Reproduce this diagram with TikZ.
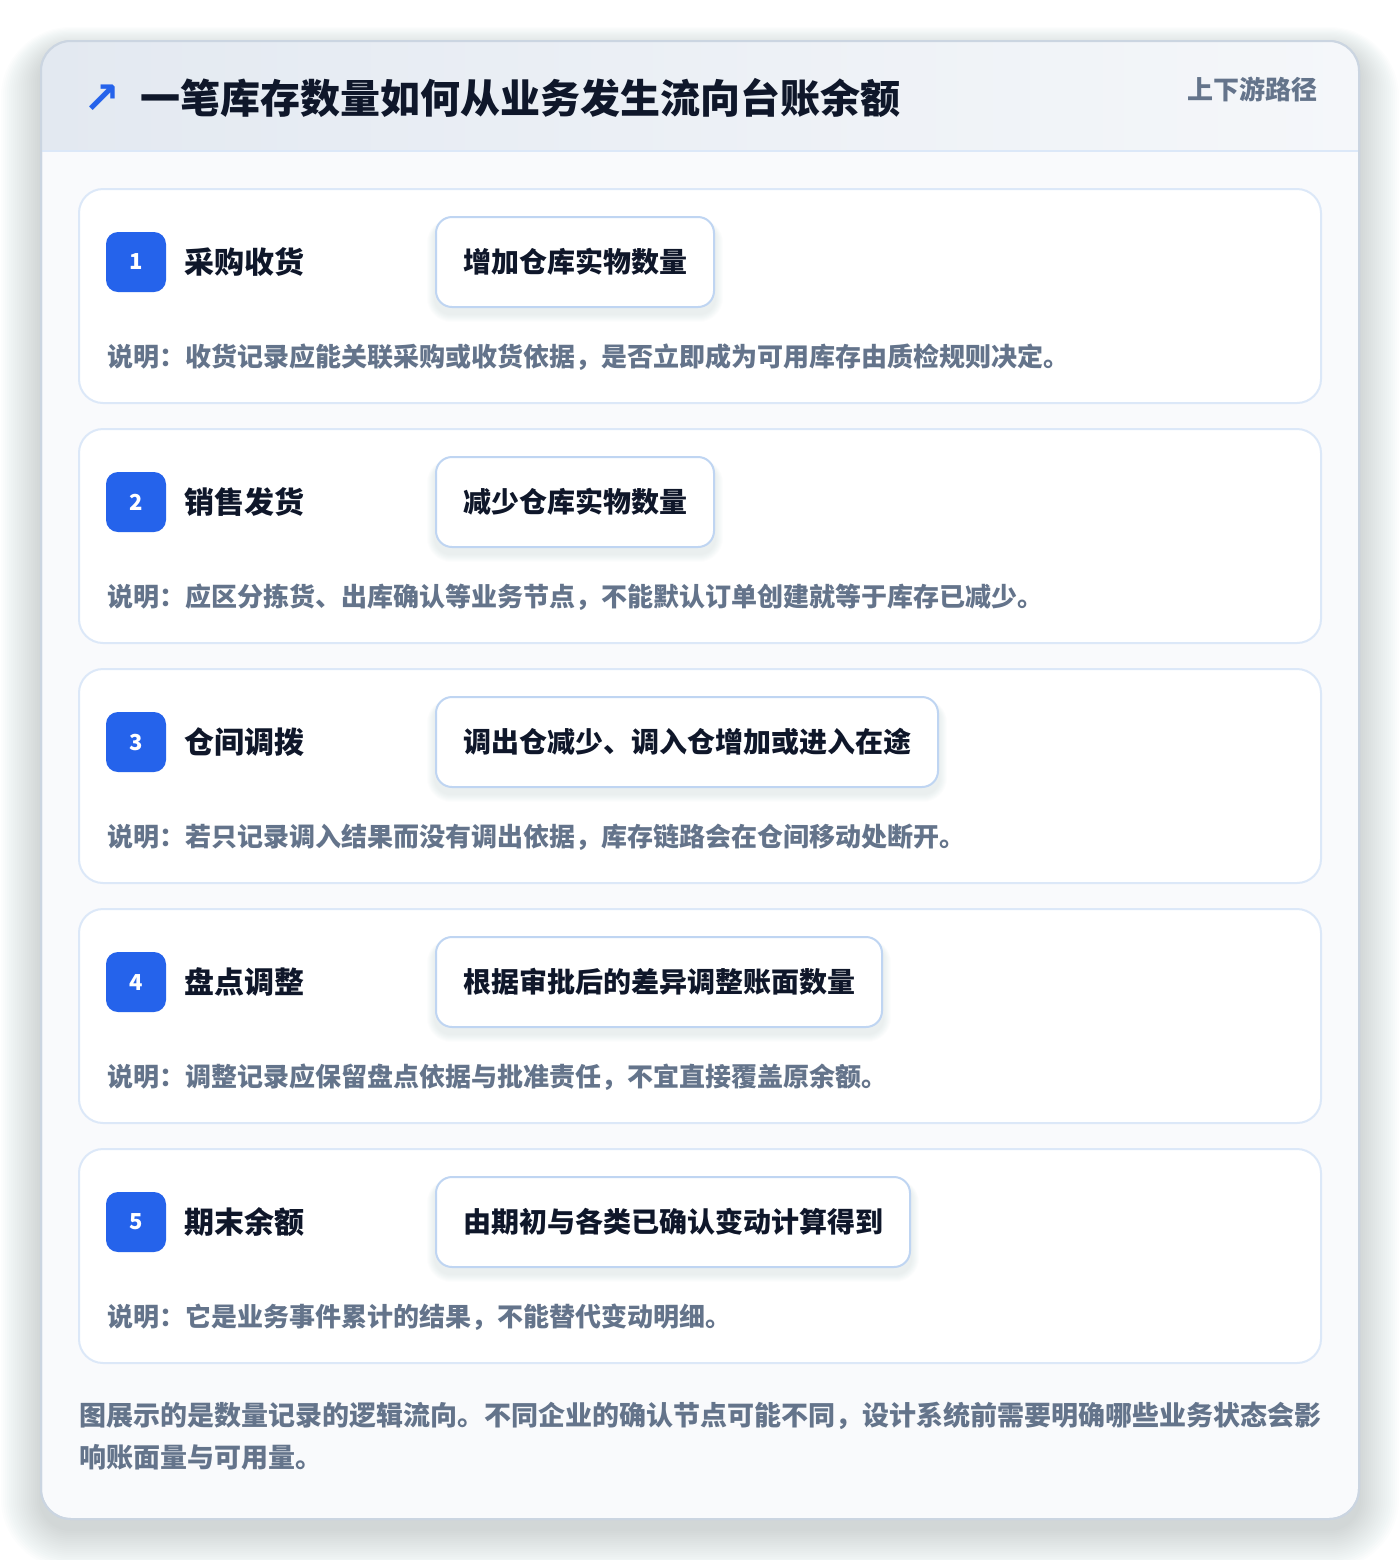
\documentclass[tikz,border=0pt]{standalone}
\usepackage{fontspec}
\setmainfont{Noto Sans CJK SC}
\newfontfamily\arrowfont{DejaVu Sans}

\definecolor{ink}{HTML}{0F172A}
\definecolor{slate}{HTML}{64748B}
\definecolor{accent}{HTML}{2563EB}
\definecolor{cardline}{HTML}{DCE8F8}
\definecolor{boxline}{HTML}{BFD5F2}
\definecolor{panelline}{HTML}{CBD5E1}
\definecolor{panelfill}{HTML}{F9FAFC}
\definecolor{headleft}{HTML}{E3E9F1}
\definecolor{headright}{HTML}{F5F7FA}
\definecolor{shadowgrey}{HTML}{475569}

\pgfdeclarelayer{glow}
\pgfdeclarelayer{front}
\pgfsetlayers{main,glow,front}

\begin{document}
\begin{tikzpicture}[x=0.5pt, y=-0.5pt,
  panel/.style={draw=panelline, line width=1pt, fill=panelfill, rounded corners=15pt},
  card/.style={draw=cardline, line width=1pt, fill=white, rounded corners=12pt},
  badge/.style={fill=accent, text=white, rounded corners=6pt, minimum size=30pt, inner sep=0pt,
    font=\fontsize{11pt}{13pt}\selectfont\bfseries},
  steplabel/.style={anchor=west, inner sep=0pt, text=ink, font=\fontsize{15pt}{18pt}\selectfont\bfseries},
  effect/.style={anchor=west, draw=boxline, line width=1pt, fill=white, rounded corners=8pt,
    inner xsep=13.5pt, inner ysep=0pt, minimum height=45pt, text=ink,
    font=\fontsize{14pt}{17pt}\selectfont\bfseries},
  note/.style={anchor=west, inner sep=0pt, text=slate, font=\fontsize{13pt}{16pt}\selectfont\bfseries}]

  % The page
  \fill [white] (0,0) rectangle (1400,1560);
  \useasboundingbox (0,0) rectangle (1400,1560);

  % The soft shadow under the panel
  \foreach \s in {2,4,...,40} {
    \fill [shadowgrey, fill opacity=0.012, rounded corners=15pt+\s*0.5pt]
      (41-\s,41-\s*0.6+10) rectangle (1359+\s,1519+\s+10);
  }

  % The panel
  \path [panel] (41,41) rectangle (1359,1519);

  % The header band
  \begin{scope}
    \clip [rounded corners=15pt] (41,41) rectangle (1359,1519);
    \shade [left color=headleft, right color=headright] (41,41) rectangle (1359,151);
  \end{scope}
  \draw [cardline, line width=1pt] (41,151) -- (1359,151);
  \draw [panelline, line width=1pt, rounded corners=15pt] (41,41) rectangle (1359,1519);

  % The title
  \node [anchor=center, inner sep=0pt, text=accent, font=\arrowfont\bfseries\fontsize{22pt}{24pt}\selectfont] (icon) at (102,99) {↗};
  \node [anchor=west, inner sep=0pt, text=ink, font=\fontsize{20pt}{24pt}\selectfont\bfseries] (title) at (140,98)
    {一笔库存数量如何从业务发生流向台账余额};
  \node [anchor=east, inner sep=0pt, text=slate, font=\fontsize{13pt}{16pt}\selectfont\bfseries] (tag) at (1318,89)
    {上下游路径};

  % The steps
  \foreach \i/\name/\effecttext/\notetext in {
      1/采购收货/增加仓库实物数量/说明：收货记录应能关联采购或收货依据，是否立即成为可用库存由质检规则决定。,
      2/销售发货/减少仓库实物数量/说明：应区分拣货、出库确认等业务节点，不能默认订单创建就等于库存已减少。,
      3/仓间调拨/调出仓减少、调入仓增加或进入在途/说明：若只记录调入结果而没有调出依据，库存链路会在仓间移动处断开。,
      4/盘点调整/根据审批后的差异调整账面数量/说明：调整记录应保留盘点依据与批准责任，不宜直接覆盖原余额。,
      5/期末余额/由期初与各类已确认变动计算得到/说明：它是业务事件累计的结果，不能替代变动明细。} {
    \pgfmathsetmacro{\top}{189+(\i-1)*240}
    \pgfmathsetmacro{\mid}{\top+73}
    \pgfmathsetmacro{\low}{\top+168}
    \pgfmathsetmacro{\bot}{\top+214}
    % The card
    \path [card] (79,\top) rectangle (1321,\bot);
    % The number, the name and the effect
    \node [badge] (b\i) at (136,\mid) {\i};
    \node [steplabel] (l\i) at (184,\mid) {\name};
    \begin{pgfonlayer}{front}
      \node [effect] (e\i) at (435,\mid) {\effecttext};
    \end{pgfonlayer}
    % The soft shadow under the effect
    \begin{pgfonlayer}{glow}
      \foreach \s in {1,...,8} {
        \fill [shadowgrey, fill opacity=0.010, rounded corners=8pt+\s*0.5pt]
          ([shift={(-\s,-\s*0.4+6)}]e\i.north west) rectangle ([shift={(\s,\s+6)}]e\i.south east);
      }
    \end{pgfonlayer}
    % The note
    \node [note] (n\i) at (107,\low) {\notetext};
  }

  % The closing remark
  \node [anchor=north west, inner sep=0pt, align=left, text=slate,
    font=\fontsize{13.5pt}{21pt}\selectfont\bfseries] (foot) at (79,1402)
    {图展示的是数量记录的逻辑流向。不同企业的确认节点可能不同，设计系统前需要明确哪些业务状态会影\\响账面量与可用量。};
\end{tikzpicture}
\end{document}
